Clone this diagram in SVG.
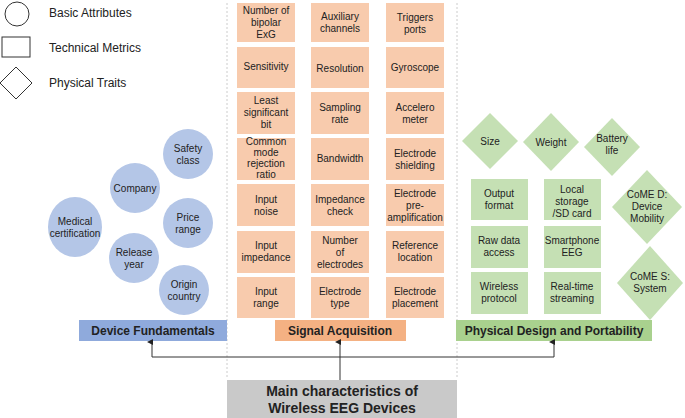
<svg xmlns="http://www.w3.org/2000/svg" width="685" height="418" viewBox="0 0 685 418">
<style>
text{font-family:"Liberation Sans",Arial,sans-serif;font-size:10px;fill:#222;text-anchor:middle}
.lg{font-size:12px;text-anchor:start}
.o{fill:#f8cbad}.b{fill:#b4c6e7}.g{fill:#c5e0b4}
.cat{font-size:12px;font-weight:bold}
.dash{stroke:#ccc;stroke-dasharray:2 2;fill:none}
.con{stroke:#333;stroke-width:1;fill:none}
</style>
<defs><marker id="ah" markerWidth="6" markerHeight="6" refX="3" refY="5" orient="auto-start-reverse" markerUnits="userSpaceOnUse"><path d="M0,6 L3,0 L6,6 Z" fill="#222" transform="rotate(0)"/></marker></defs>
<rect width="685" height="418" fill="#fff"/>
<g id="legend">
<circle cx="17" cy="14" r="12" fill="none" stroke="#333"/>
<rect x="2" y="37" width="28" height="20" fill="none" stroke="#333"/>
<path d="M16,67 L32,83 L16,99 L0,83 Z" fill="none" stroke="#333"/>
<text class="lg" x="49" y="17">Basic Attributes</text>
<text class="lg" x="49" y="52">Technical Metrics</text>
<text class="lg" x="49" y="87">Physical Traits</text>
</g>
<path class="dash" d="M227,3 V378 M457,3 V378"/>
<g id="basic">
<g id="n-safety"><circle class="b" cx="188" cy="154" r="25"/><text x="188" y="152">Safety</text><text x="188" y="164">class</text></g>
<g id="n-company"><circle class="b" cx="135" cy="188" r="25"/><text x="135" y="192">Company</text></g>
<g id="n-price"><circle class="b" cx="188" cy="223" r="25"/><text x="188" y="221">Price</text><text x="188" y="233">range</text></g>
<g id="n-medical"><ellipse class="b" cx="75" cy="227" rx="27" ry="30"/><text x="75" y="225">Medical</text><text x="75" y="237">certification</text></g>
<g id="n-release"><circle class="b" cx="134" cy="258" r="25"/><text x="134" y="256">Release</text><text x="134" y="268">year</text></g>
<g id="n-origin"><circle class="b" cx="184" cy="290" r="25"/><text x="184" y="288">Origin</text><text x="184" y="300">country</text></g>
</g>
<g id="signal">
<g id="s1"><rect class="o" x="237" y="3" width="58" height="39"/><text x="266" y="14">Number of</text><text x="266" y="26">bipolar</text><text x="266" y="38">ExG</text></g>
<g id="s2"><rect class="o" x="237" y="47" width="58" height="41"/><text x="266" y="70">Sensitivity</text></g>
<g id="s3"><rect class="o" x="237" y="92" width="58" height="42"/><text x="266" y="104">Least</text><text x="266" y="116">significant</text><text x="266" y="128">bit</text></g>
<g id="s4"><rect class="o" x="237" y="138" width="58" height="42"/><text x="266" y="145">Common</text><text x="266" y="156">mode</text><text x="266" y="167">rejection</text><text x="266" y="178">ratio</text></g>
<g id="s5"><rect class="o" x="237" y="184" width="58" height="42"/><text x="266" y="203">Input</text><text x="266" y="215">noise</text></g>
<g id="s6"><rect class="o" x="237" y="231" width="58" height="42"/><text x="266" y="249">Input</text><text x="266" y="261">impedance</text></g>
<g id="s7"><rect class="o" x="237" y="277" width="58" height="41"/><text x="266" y="295">Input</text><text x="266" y="307">range</text></g>
<g id="s8"><rect class="o" x="311" y="3" width="58" height="39"/><text x="340" y="20">Auxiliary</text><text x="340" y="32">channels</text></g>
<g id="s9"><rect class="o" x="311" y="47" width="58" height="41"/><text x="340" y="72">Resolution</text></g>
<g id="s10"><rect class="o" x="311" y="92" width="58" height="42"/><text x="340" y="111">Sampling</text><text x="340" y="123">rate</text></g>
<g id="s11"><rect class="o" x="311" y="138" width="58" height="42"/><text x="340" y="162">Bandwidth</text></g>
<g id="s12"><rect class="o" x="311" y="184" width="58" height="42"/><text x="340" y="203">Impedance</text><text x="340" y="215">check</text></g>
<g id="s13"><rect class="o" x="311" y="231" width="58" height="42"/><text x="340" y="244">Number</text><text x="340" y="256">of</text><text x="340" y="268">electrodes</text></g>
<g id="s14"><rect class="o" x="311" y="277" width="58" height="41"/><text x="340" y="295">Electrode</text><text x="340" y="307">type</text></g>
<g id="s15"><rect class="o" x="386" y="3" width="58" height="39"/><text x="415" y="21">Triggers</text><text x="415" y="33">ports</text></g>
<g id="s16"><rect class="o" x="386" y="47" width="58" height="41"/><text x="415" y="71">Gyroscope</text></g>
<g id="s17"><rect class="o" x="386" y="92" width="58" height="42"/><text x="415" y="111">Accelero</text><text x="415" y="123">meter</text></g>
<g id="s18"><rect class="o" x="386" y="138" width="58" height="42"/><text x="415" y="157">Electrode</text><text x="415" y="169">shielding</text></g>
<g id="s19"><rect class="o" x="386" y="184" width="58" height="42"/><text x="415" y="197">Electrode</text><text x="415" y="209">pre-</text><text x="415" y="221">amplification</text></g>
<g id="s20"><rect class="o" x="386" y="231" width="58" height="42"/><text x="415" y="249">Reference</text><text x="415" y="261">location</text></g>
<g id="s21"><rect class="o" x="386" y="277" width="58" height="41"/><text x="415" y="295">Electrode</text><text x="415" y="307">placement</text></g>
</g>
<g id="physical">
<g id="p-size"><path class="g" d="M490,113 L518,141 L490,169 L462,141 Z"/><text x="490" y="145">Size</text></g>
<g id="p-weight"><path class="g" d="M551,113 L579,142 L551,171 L523,142 Z"/><text x="551" y="146">Weight</text></g>
<g id="p-battery"><path class="g" d="M612,118 L640,147 L612,176 L584,147 Z"/><text x="612" y="142">Battery</text><text x="612" y="154">life</text></g>
<g id="p-comed"><path class="g" d="M647,170 L682,207 L647,244 L612,207 Z"/><text x="647" y="198">CoME D:</text><text x="647" y="210">Device</text><text x="647" y="222">Mobility</text></g>
<g id="p-comes"><path class="g" d="M650,246 L683,283 L650,320 L617,283 Z"/><text x="650" y="280">CoME S:</text><text x="650" y="292">System</text></g>
<g id="p1"><rect class="g" x="471" y="179" width="57" height="41"/><text x="499" y="197">Output</text><text x="499" y="209">format</text></g>
<g id="p2"><rect class="g" x="471" y="226" width="57" height="42"/><text x="499" y="244">Raw data</text><text x="499" y="256">access</text></g>
<g id="p3"><rect class="g" x="471" y="272" width="57" height="42"/><text x="499" y="290">Wireless</text><text x="499" y="302">protocol</text></g>
<g id="p4"><rect class="g" x="544" y="179" width="57" height="41"/><text x="572" y="193">Local</text><text x="572" y="205">storage</text><text x="572" y="217">/SD card</text></g>
<g id="p5"><rect class="g" x="544" y="226" width="57" height="42"/><text x="572" y="244">Smartphone</text><text x="572" y="256">EEG</text></g>
<g id="p6"><rect class="g" x="544" y="272" width="57" height="42"/><text x="572" y="290">Real-time</text><text x="572" y="302">streaming</text></g>
</g>
<g id="categories">
<g id="c-dev"><rect x="79" y="320" width="148" height="21" fill="#8faadc"/><text class="cat" x="153" y="335">Device Fundamentals</text></g>
<g id="c-sig"><rect x="275" y="320" width="131" height="21" fill="#f4b183"/><text class="cat" x="340" y="335">Signal Acquisition</text></g>
<g id="c-phy"><rect x="456" y="320" width="196" height="21" fill="#a9d18e"/><text class="cat" x="554" y="335">Physical Design and Portability</text></g>
</g>
<g id="main"><rect x="227" y="380" width="230" height="38" fill="#c9c9c9"/><text x="342" y="396" style="font-size:14px;font-weight:bold">Main characteristics of</text><text x="342" y="413" style="font-size:14px;font-weight:bold">Wireless EEG Devices</text></g>
<g id="connectors">
<path class="con" d="M340,380 V342" marker-end="url(#ah)"/>
<path class="con" d="M152,342 V357 H554 V342" marker-start="url(#ah)" marker-end="url(#ah)"/>
</g>
</svg>
